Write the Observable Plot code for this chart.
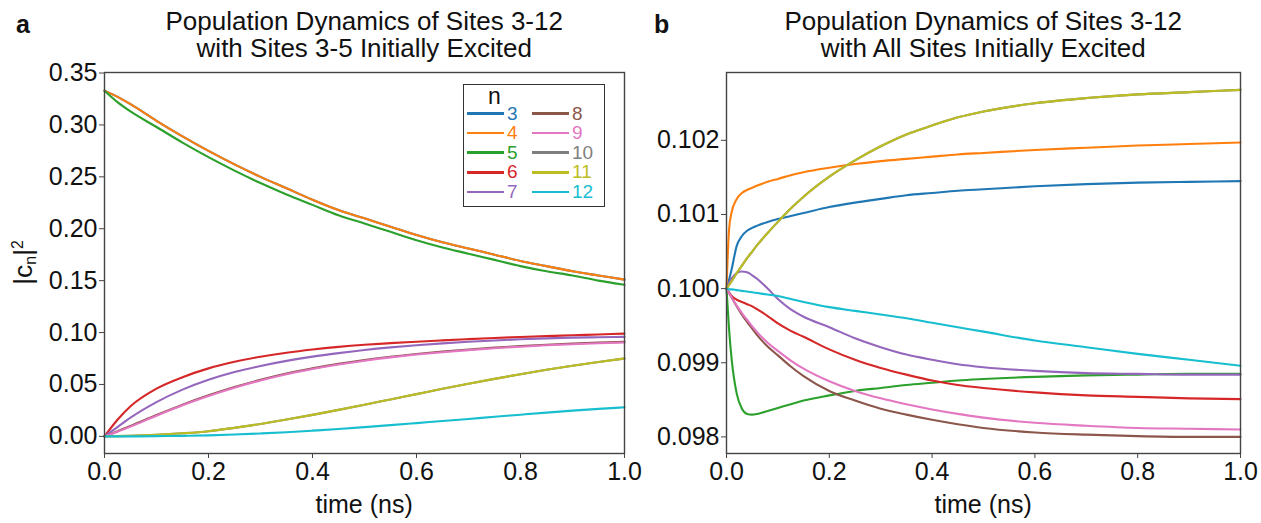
<!DOCTYPE html>
<html><head><meta charset="utf-8">
<script src="https://cdn.jsdelivr.net/npm/d3@7"></script>
<script src="https://cdn.jsdelivr.net/npm/@observablehq/plot@0.6"></script>
<style>
body{margin:0;background:#fff;font-family:"Liberation Sans",Arial,sans-serif;}
#fig{position:relative;width:1261px;height:523px;overflow:hidden;background:#fff;}
.abs{position:absolute;white-space:nowrap;color:#111;line-height:1;}
.plot{position:absolute;top:0;}
</style></head><body><div id="fig"></div>
<script>
// ---------- data ----------
const sites = [3, 4, 5, 6, 7, 8, 9, 10, 11, 12];
const colors = ["#1f77b4", "#ff7f0e", "#2ca02c", "#d62728", "#9467bd", "#8c564b", "#e377c2", "#7f7f7f", "#bcbd22", "#17becf"];
const xTicks = [0, 0.2, 0.4, 0.6, 0.8, 1.0];
const yTicksA = [0, 0.05, 0.10, 0.15, 0.20, 0.25, 0.30, 0.35];
const yTicksB = [0.098, 0.099, 0.100, 0.101, 0.102];
const titlesA = ["Population Dynamics of Sites 3-12", "with Sites 3-5 Initially Excited"];
const titlesB = ["Population Dynamics of Sites 3-12", "with All Sites Initially Excited"];

// panel a (sites 3-5 initially excited)
const timeA = [0, 0.025, 0.05, 0.1, 0.15, 0.2, 0.25, 0.3, 0.35, 0.4, 0.45, 0.5, 0.55, 0.6, 0.65, 0.7, 0.75, 0.8, 0.85, 0.9, 0.95, 1.0];
const a3  = [0.333, 0.327, 0.320, 0.304, 0.289, 0.275, 0.262, 0.250, 0.239, 0.228, 0.218, 0.210, 0.202, 0.194, 0.187, 0.181, 0.175, 0.169, 0.164, 0.159, 0.155, 0.151];
const a4  = [0.333, 0.327, 0.320, 0.304, 0.289, 0.275, 0.262, 0.250, 0.239, 0.228, 0.218, 0.210, 0.202, 0.194, 0.187, 0.181, 0.175, 0.169, 0.164, 0.159, 0.155, 0.151];
const a5  = [0.333, 0.322, 0.313, 0.298, 0.283, 0.269, 0.256, 0.244, 0.233, 0.223, 0.213, 0.205, 0.197, 0.189, 0.182, 0.176, 0.170, 0.164, 0.159, 0.155, 0.150, 0.146];
const a6  = [0, 0.016, 0.029, 0.046, 0.057, 0.0655, 0.0718, 0.0767, 0.0806, 0.0837, 0.0862, 0.0882, 0.0898, 0.0912, 0.0925, 0.0937, 0.0948, 0.0957, 0.0966, 0.0974, 0.0982, 0.0990];
const a7  = [0, 0.009, 0.018, 0.033, 0.045, 0.0545, 0.062, 0.0678, 0.0727, 0.0768, 0.0802, 0.0832, 0.0857, 0.0878, 0.0896, 0.0911, 0.0924, 0.0935, 0.0944, 0.0951, 0.0955, 0.0958];
const a8  = [0, 0.005, 0.010, 0.0205, 0.0305, 0.0395, 0.0475, 0.0545, 0.0605, 0.0655, 0.0698, 0.0735, 0.0767, 0.0794, 0.0817, 0.0837, 0.0855, 0.0870, 0.0883, 0.0894, 0.0903, 0.0910];
const a9  = [0, 0.0045, 0.0094, 0.0199, 0.0299, 0.0389, 0.0469, 0.0539, 0.0599, 0.0649, 0.0692, 0.0729, 0.0761, 0.0788, 0.0811, 0.0831, 0.0849, 0.0864, 0.0877, 0.0888, 0.0897, 0.0904];
const a10 = [0, 0.0002, 0.0005, 0.0015, 0.003, 0.005, 0.0082, 0.0120, 0.0162, 0.0207, 0.0255, 0.0305, 0.0356, 0.0407, 0.0458, 0.0507, 0.0554, 0.0599, 0.0641, 0.0680, 0.0716, 0.0750];
const a11 = [0, 0.0002, 0.0005, 0.0015, 0.003, 0.005, 0.0082, 0.0120, 0.0162, 0.0207, 0.0255, 0.0305, 0.0356, 0.0407, 0.0458, 0.0507, 0.0554, 0.0599, 0.0641, 0.0680, 0.0716, 0.0750];
const a12 = [0, 0, 0, 0.0002, 0.0005, 0.001, 0.0018, 0.0028, 0.004, 0.0055, 0.0071, 0.0089, 0.0108, 0.0128, 0.0148, 0.0168, 0.0189, 0.0209, 0.0229, 0.0248, 0.0265, 0.0280];

// panel b (all sites initially excited)
const timeB = [0, 0.005, 0.01, 0.02, 0.03, 0.04, 0.05, 0.06, 0.08, 0.1, 0.125, 0.15, 0.2, 0.25, 0.3, 0.35, 0.4, 0.45, 0.5, 0.6, 0.7, 0.8, 0.9, 1.0];
const b3  = [0.1, 0.10012, 0.10026, 0.10058, 0.10071, 0.10078, 0.10082, 0.10085, 0.10090, 0.10094, 0.10098, 0.10102, 0.10110, 0.10116, 0.10121, 0.10126, 0.10129, 0.10132, 0.10134, 0.10138, 0.10141, 0.10143, 0.10144, 0.10145];
const b4  = [0.1, 0.1008, 0.10103, 0.10121, 0.10129, 0.10133, 0.10136, 0.10139, 0.10144, 0.10148, 0.10153, 0.10157, 0.10163, 0.10168, 0.10172, 0.10175, 0.10178, 0.10181, 0.10183, 0.10187, 0.10190, 0.10193, 0.10195, 0.10197];
const b5  = [0.1, 0.09945, 0.09905, 0.09858, 0.09838, 0.09831, 0.0983, 0.09831, 0.09835, 0.09839, 0.09844, 0.09849, 0.09856, 0.09862, 0.09866, 0.0987, 0.09873, 0.09876, 0.09878, 0.09881, 0.09883, 0.09884, 0.09885, 0.09885];
const b6  = [0.1, 0.09995, 0.0999, 0.09985, 0.09982, 0.09979, 0.09976, 0.09972, 0.09963, 0.09953, 0.09943, 0.09935, 0.09918, 0.09904, 0.09893, 0.09884, 0.09876, 0.0987, 0.09866, 0.0986, 0.09856, 0.09854, 0.09852, 0.09851];
const b7  = [0.1, 0.10008, 0.10014, 0.10021, 0.10023, 0.10022, 0.10018, 0.10013, 0.1, 0.09986, 0.09972, 0.09962, 0.09948, 0.09933, 0.09921, 0.09911, 0.09904, 0.09898, 0.09894, 0.09889, 0.09886, 0.09885, 0.09884, 0.09884];
const b8  = [0.1, 0.09994, 0.09988, 0.09976, 0.09965, 0.09955, 0.09946, 0.09937, 0.09922, 0.0991, 0.09895, 0.09882, 0.09862, 0.09849, 0.09838, 0.0983, 0.09823, 0.09817, 0.09812, 0.09806, 0.09803, 0.09801, 0.098, 0.098];
const b9  = [0.1, 0.09994, 0.09988, 0.09977, 0.09967, 0.09958, 0.09949, 0.09941, 0.09927, 0.09916, 0.09903, 0.09892, 0.09875, 0.09862, 0.09852, 0.09844, 0.09837, 0.09831, 0.09826, 0.09819, 0.09815, 0.09812, 0.09811, 0.0981];
const b10 = [0.1, 0.10005, 0.1001, 0.10021, 0.10031, 0.10041, 0.1005, 0.10059, 0.10075, 0.1009, 0.10108, 0.10124, 0.10151, 0.10173, 0.10192, 0.10208, 0.1022, 0.10231, 0.10239, 0.1025, 0.10257, 0.10262, 0.10265, 0.10268];
const b11 = [0.1, 0.10005, 0.1001, 0.10021, 0.10031, 0.10041, 0.1005, 0.10059, 0.10075, 0.1009, 0.10108, 0.10124, 0.10151, 0.10173, 0.10192, 0.10208, 0.1022, 0.10231, 0.10239, 0.1025, 0.10257, 0.10262, 0.10265, 0.10268];
const b12 = [0.1, 0.09999, 0.09999, 0.09998, 0.09997, 0.09996, 0.09995, 0.09994, 0.09992, 0.0999, 0.09986, 0.09982, 0.09975, 0.0997, 0.09965, 0.0996, 0.09954, 0.09948, 0.09942, 0.0993, 0.09921, 0.09912, 0.09904, 0.09896];

// ---------- drawing ----------
const fig = document.getElementById("fig");
const FONT = "'Liberation Sans', Arial, Helvetica, sans-serif";

function rowsOf(time, series) {
  const rows = [];
  series.forEach((vals, i) => vals.forEach((v, j) => rows.push({t: time[j], v, n: sites[i]})));
  return rows;
}

function panel({time, series, yDomain, yTicks, yFmt, left, width, marginLeft, marginRight}) {
  const chart = Plot.plot({
    width, height: 523,
    marginLeft, marginRight, marginTop: 72, marginBottom: 70,
    style: {fontFamily: FONT, fontSize: "25px", color: "#111", background: "transparent", overflow: "visible"},
    x: {domain: [0, 1], label: null},
    y: {domain: yDomain, label: null},
    color: {domain: sites, range: colors},
    marks: [
      Plot.line(rowsOf(time, series), {x: "t", y: "v", z: "n", stroke: "n", strokeWidth: 2.1, curve: "monotone-x"}),
      Plot.frame({stroke: "#444", strokeWidth: 1.4}),
      Plot.axisX({ticks: xTicks, tickFormat: d3.format(".1f"), tickSize: 5, tickPadding: 4, stroke: "#444", label: null}),
      Plot.axisY({ticks: yTicks, tickFormat: yFmt, tickSize: 5, tickPadding: 2, stroke: "#444", label: null})
    ]
  });
  chart.classList.add("plot");
  chart.style.left = left + "px";
  fig.appendChild(chart);
}

panel({time: timeA, series: [a3, a4, a5, a6, a7, a8, a9, a10, a11, a12],
  yDomain: [-0.0165, 0.3505], yTicks: yTicksA, yFmt: d3.format(".2f"),
  left: 0, width: 640, marginLeft: 104, marginRight: 16});
panel({time: timeB, series: [b3, b4, b5, b6, b7, b8, b9, b10, b11, b12],
  yDomain: [0.097776, 0.102915], yTicks: yTicksB, yFmt: d3.format(".3f"),
  left: 630, width: 631, marginLeft: 96, marginRight: 21});

function text(parent, str, x, y, css) {
  const d = document.createElement("div");
  d.className = "abs";
  d.innerHTML = str;
  Object.assign(d.style, {left: x + "px", top: y + "px"}, css || {});
  parent.appendChild(d);
  return d;
}
function centered(str, cx, y, size, css) {
  const d = text(fig, str, 0, y, Object.assign({fontSize: size + "px"}, css || {}));
  d.style.left = (cx - d.offsetWidth / 2) + "px";
  return d;
}

// panel letters, titles, axis labels
text(fig, "a", 16, 12, {fontSize: "25px", fontWeight: "bold"});
text(fig, "b", 654, 12, {fontSize: "25px", fontWeight: "bold"});
centered(titlesA.join("<br>"), 364, 8, 26, {lineHeight: "27px", textAlign: "center"});
centered(titlesB.join("<br>"), 983, 8, 26, {lineHeight: "27px", textAlign: "center"});
centered("time (ns)", 364, 492, 25);
centered("time (ns)", 983, 492, 25);
const yl = centered("|c<sub style='font-size:0.6em;vertical-align:-0.25em'>n</sub>|<sup style='font-size:0.6em;vertical-align:0.55em'>2</sup>", 24, 0, 26.5);
yl.style.top = (262 - yl.offsetHeight / 2) + "px";
yl.style.transform = "rotate(-90deg)";

// legend
const box = document.createElement("div");
Object.assign(box.style, {position: "absolute", left: "463px", top: "84px", width: "142px", height: "123px",
  boxSizing: "border-box", border: "1.5px solid #333", background: "#fff"});
fig.appendChild(box);
text(box, "n", 24, 0, {fontSize: "23px", lineHeight: "22px"});
sites.forEach((s, i) => {
  const col = i < 5 ? 0 : 1, row = i % 5;
  const cy = 28.5 + row * 19.6;
  const lx = col ? 68 : 3;
  const ln = document.createElement("div");
  Object.assign(ln.style, {position: "absolute", left: lx + "px", top: (cy - 1.3) + "px", width: "37px", height: "2.6px", background: colors[i]});
  box.appendChild(ln);
  text(box, String(s), lx + 40, cy - 8, {fontSize: "19px", lineHeight: "16px", color: colors[i]});
});
</script></body></html>
